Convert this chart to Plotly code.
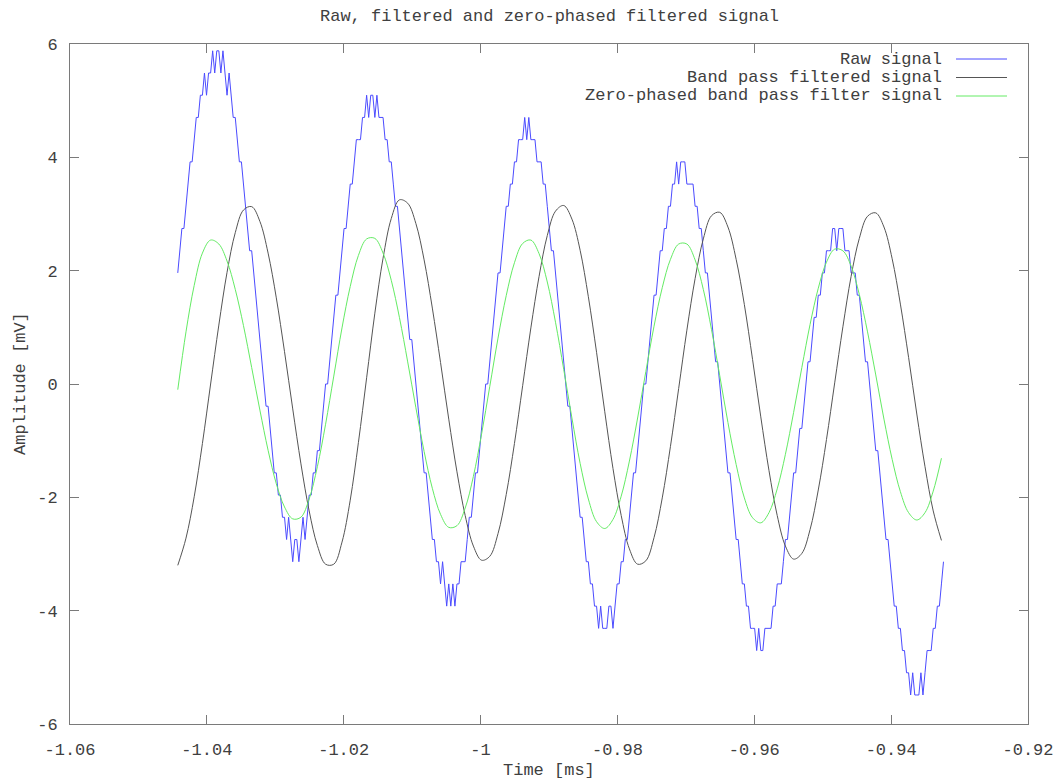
import numpy as np
import plotly.graph_objects as go

# ---------------- data ----------------
T0 = -1.04425          # first sample time [ms]
DT_RAW = 0.0003        # raw sampling step [ms]
DT_FILT = 0.0012       # step of the filtered-signal samples [ms]
LSB_MV = 0.392         # quantisation step of the raw signal [mV]

# raw signal in ADC counts (quantised levels)
raw_counts = [
    5, 6, 7, 7, 8, 9, 10, 10, 11, 12, 12, 13, 13, 14, 13, 14, 14, 15, 14, 15,
    15, 14, 15, 14, 13, 14, 13, 12, 12, 11, 10, 10, 9, 8, 7, 6, 6, 5, 4, 3, 2, 1, 0, -1, -1, -2, -3, -4, -4, -5, -5, -6, -6, -7, -6, -7, -8, -7,
    -7, -8, -7, -6, -7, -6, -5, -5, -4, -4, -3, -3, -2, -1, 0, 0, 1, 2, 3, 4, 4, 5, 6, 7, 7, 8, 9, 9, 10, 11, 11, 11, 12, 12, 13, 12, 13, 13,
    12, 13, 12, 12, 12, 11, 11, 10, 10, 9, 8, 8, 7, 6, 5, 4, 3, 2, 2, 1, 0, -1, -2, -3, -4, -4, -5, -6, -7, -7, -8, -8, -9, -8, -9, -10, -9, -10,
    -9, -10, -9, -9, -8, -8, -8, -7, -6, -6, -5, -4, -4, -3, -2, -1, 0, 0, 1, 2, 3, 4, 5, 5, 6, 7, 8, 8, 9, 9, 10, 10, 11, 11, 11, 12, 11,
    12, 11, 11, 11, 10, 10, 10, 9, 9, 8, 7, 6, 6, 5, 4, 3, 2, 1, 0, -1, -1, -2, -3, -4, -5, -6, -6, -7, -8, -8, -9, -9, -10, -10, -11, -10, -11, -11,
    -11, -10, -10, -11, -10, -9, -9, -8, -8, -7, -7, -6, -5, -4, -4, -3, -2, -1, 0, 0, 1, 2, 3, 4, 4, 5, 6, 6, 7, 7, 8, 8, 9, 9, 10, 9, 10, 10,
    10, 9, 9, 9, 9, 8, 8, 7, 7, 6, 5, 5, 4, 3, 2, 1, 1, 0, -1, -2, -3, -4, -4, -5, -6, -7, -7, -8, -9, -9, -10, -10, -11, -11, -11, -12, -11, -12,
    -12, -11, -11, -11, -11, -10, -10, -9, -9, -9, -8, -7, -7, -6, -5, -4, -4, -3, -2, -2, -1, 0, 1, 1, 2, 3, 3, 4, 4, 5, 5, 6, 6, 6, 7, 7, 6, 7,
    7, 7, 6, 6, 6, 5, 5, 5, 4, 4, 3, 2, 1, 1, 0, -1, -2, -3, -3, -4, -5, -6, -7, -7, -8, -9, -10, -10, -11, -11, -12, -12, -13, -13, -14, -13, -14, -14,
    -14, -13, -14, -13, -12, -12, -12, -11, -11, -10, -10, -9, -8,
]

# band pass filtered signal [mV]
bandpass_mv = [
    -3.20, -2.72, -1.99, -1.05, 0.00, 1.04, 1.97, 2.67, 3.07,
    3.13, 2.87, 2.31, 1.52, 0.57, -0.44, -1.41, -2.24, -2.85, -3.18,
    -3.18, -2.79, -2.05, -1.03, 0.11, 1.25, 2.22, 2.92, 3.25,
    3.19, 2.83, 2.19, 1.34, 0.38, -0.62, -1.55, -2.32, -2.86, -3.11,
    -3.04, -2.64, -1.95, -1.05, -0.03, 0.99, 1.90, 2.62, 3.05,
    3.15, 2.91, 2.36, 1.54, 0.56, -0.49, -1.49, -2.32, -2.91, -3.18,
    -3.12, -2.71, -2.01, -1.10, -0.08, 0.95, 1.86, 2.56, 2.97,
    3.03, 2.77, 2.20, 1.40, 0.43, -0.58, -1.53, -2.32, -2.86, -3.09,
    -2.99, -2.57, -1.87, -0.98, 0.02, 1.01, 1.90, 2.57, 2.96,
    3.02, 2.77, 2.21, 1.41, 0.47, -0.53, -1.46, -2.24, -2.76,
]

# zero-phased band pass filtered signal [mV]
zerophase_mv = [
    -0.10, 0.92, 1.74, 2.31, 2.54,
    2.47, 2.17, 1.67, 1.03, 0.29, -0.46, -1.17, -1.76, -2.17, -2.38,
    -2.35, -2.03, -1.46, -0.71, 0.14, 0.99, 1.72, 2.27, 2.56,
    2.57, 2.31, 1.83, 1.17, 0.39, -0.42, -1.19, -1.84, -2.30, -2.53,
    -2.50, -2.19, -1.63, -0.88, -0.04, 0.81, 1.56, 2.14, 2.48,
    2.54, 2.30, 1.80, 1.09, 0.26, -0.60, -1.40, -2.03, -2.43,
    -2.55, -2.39, -1.98, -1.36, -0.60, 0.22, 1.02, 1.70, 2.20, 2.47,
    2.47, 2.19, 1.67, 0.96, 0.15, -0.68, -1.42, -2.01, -2.36,
    -2.45, -2.27, -1.85, -1.24, -0.50, 0.29, 1.05, 1.69, 2.15, 2.38,
    2.35, 2.08, 1.58, 0.92, 0.16, -0.62, -1.33, -1.90, -2.27, -2.40,
    -2.27, -1.89, -1.31,
]

x_tickvals = [-1.06, -1.04, -1.02, -1.0, -0.98, -0.96, -0.94, -0.92]
x_ticktext = ["-1.06", "-1.04", "-1.02", "-1", "-0.98", "-0.96", "-0.94", "-0.92"]
y_tickvals = [-6, -4, -2, 0, 2, 4, 6]
y_ticktext = ["-6", "-4", "-2", "0", "2", "4", "6"]

series_names = ["Raw signal", "Band pass filtered signal", "Zero-phased band pass filter signal"]
series_colors = ["rgb(75,75,255)", "rgb(85,85,85)", "rgb(100,235,100)"]

# ---------------- figure ----------------
t_raw = T0 + DT_RAW * np.arange(len(raw_counts))
raw_mv = np.array(raw_counts) * LSB_MV
t_filt = T0 + DT_FILT * np.arange(len(bandpass_mv))

FONT = "Liberation Mono, Courier New, monospace"
TXT = "#404040"
AX = "#7a7a7a"

fig = go.Figure()
fig.add_trace(go.Scatter(x=t_raw, y=raw_mv, mode="lines",
                         line=dict(color=series_colors[0], width=1),
                         name=series_names[0], showlegend=False))
fig.add_trace(go.Scatter(x=t_filt, y=bandpass_mv, mode="lines",
                         line=dict(color=series_colors[1], width=1, shape="spline"),
                         name=series_names[1], showlegend=False))
fig.add_trace(go.Scatter(x=t_filt, y=zerophase_mv, mode="lines",
                         line=dict(color=series_colors[2], width=1, shape="spline"),
                         name=series_names[2], showlegend=False))

L, R, T, B = 70, 31, 44, 60
W, H = 1059, 784
pw, ph = W - L - R, H - T - B

axis_common = dict(showgrid=False, zeroline=False, showline=True, linecolor=AX, linewidth=1,
                   mirror="allticks", ticks="inside", ticklen=9, tickcolor=AX, tickwidth=1,
                   automargin=False,
                   tickfont=dict(family=FONT, size=17, color=TXT))

fig.update_xaxes(range=[-1.06, -0.92], tickmode="array", tickvals=x_tickvals, ticktext=x_ticktext,
                 ticklabelstandoff=10, **axis_common)
fig.update_yaxes(range=[-6, 6], tickmode="array", tickvals=y_tickvals, ticktext=y_ticktext,
                 ticklabelstandoff=8, **axis_common)

annotations = [
    dict(text="Raw, filtered and zero-phased filtered signal", x=0.5, y=1 + (T - 17) / ph,
         xref="paper", yref="paper", showarrow=False, xanchor="center", yanchor="middle",
         font=dict(family=FONT, size=17, color=TXT)),
    dict(text="Time [ms]", x=0.5, y=-(770 - (T + ph)) / ph,
         xref="paper", yref="paper", showarrow=False, xanchor="center", yanchor="middle",
         font=dict(family=FONT, size=17, color=TXT)),
    dict(text="Amplitude [mV]", x=(20 - L) / pw, y=0.5, textangle=-90,
         xref="paper", yref="paper", showarrow=False, xanchor="center", yanchor="middle",
         font=dict(family=FONT, size=17, color=TXT)),
]
shapes = []
legend_rows_px = [59, 77.5, 96]
for name, col, ry in zip(series_names, series_colors, legend_rows_px):
    yp = 1 - (ry - T) / ph
    annotations.append(dict(text=name, x=(944 - L) / pw, y=yp, xref="paper", yref="paper",
                            showarrow=False, xanchor="right", yanchor="middle",
                            font=dict(family=FONT, size=17, color=TXT)))
    shapes.append(dict(type="line", xref="paper", yref="paper",
                       x0=(956 - L) / pw, x1=(1007 - L) / pw, y0=yp, y1=yp,
                       line=dict(color=col, width=1)))

fig.update_layout(width=W, height=H, margin=dict(l=L, r=R, t=T, b=B, autoexpand=False),
                  paper_bgcolor="white", plot_bgcolor="white",
                  annotations=annotations, shapes=shapes, showlegend=False)

fig.write_html("out.html")
